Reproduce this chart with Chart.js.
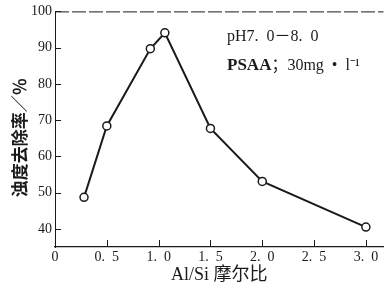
<!DOCTYPE html>
<html>
<head>
<meta charset="utf-8">
<script src="https://cdn.jsdelivr.net/npm/chart.js@4.4.1/dist/chart.umd.min.js"></script>
<style>
  html, body { margin: 0; padding: 0; background: #fff; }
  #wrap { width: 389px; height: 288px; position: relative; }
</style>
</head>
<body>
<div id="wrap"><canvas id="chart"></canvas></div>
<script>
const ratios = [0.28, 0.5, 0.92, 1.06, 1.5, 2.0, 3.0];
const removal = [48.7, 68.4, 89.7, 94.1, 67.7, 53.1, 40.5];
const xTickValues = [0, 0.5, 1.0, 1.5, 2.0, 2.5, 3.0];
const yTickValues = [40, 50, 60, 70, 80, 90, 100];
const noteLines = [["pH7.  0－8.  0", ""], ["PSAA", "；30mg  •  l⁻¹"]];

const ink = "#1a1a1a";
const serif = "'Liberation Serif', 'DejaVu Serif', serif";
const mixed = "'Liberation Serif', 'Noto Sans CJK SC', serif";

// inward tick marks, top frame line and the condition note
const framePlugin = {
  id: "frame",
  afterDraw(chart) {
    const { ctx, chartArea, scales } = chart;
    ctx.save();
    ctx.strokeStyle = ink;
    ctx.lineWidth = 1;

    ctx.setLineDash([14, 3]);
    ctx.beginPath();
    ctx.moveTo(chartArea.left, chartArea.top + 0.5);
    ctx.lineTo(chartArea.right, chartArea.top + 0.5);
    ctx.stroke();
    ctx.setLineDash([]);

    ctx.beginPath();
    yTickValues.forEach((v) => {
      const y = Math.round(scales.y.getPixelForValue(v)) + 0.5;
      ctx.moveTo(chartArea.left, y);
      ctx.lineTo(chartArea.left + 6, y);
    });
    xTickValues.slice(1).forEach((v) => {
      const x = Math.round(scales.x.getPixelForValue(v)) + 0.5;
      ctx.moveTo(x, chartArea.bottom);
      ctx.lineTo(x, chartArea.bottom - 7);
    });
    ctx.stroke();

    ctx.fillStyle = ink;
    ctx.textBaseline = "middle";
    ctx.textAlign = "left";
    const nx = scales.x.getPixelForValue(1.66);
    const rows = [
      { y: 92.9, fonts: ["16px " + mixed, "16px " + mixed] },
      { y: 85, fonts: ["bold 17px " + serif, "16px " + mixed] }
    ];
    rows.forEach((row, i) => {
      const py = scales.y.getPixelForValue(row.y);
      let x = nx;
      noteLines[i].forEach((part, j) => {
        ctx.font = row.fonts[j];
        ctx.fillText(part, x, py);
        x += ctx.measureText(part).width;
      });
    });
    ctx.restore();
  }
};

new Chart(document.getElementById("chart"), {
  type: "scatter",
  data: {
    datasets: [
      {
        data: ratios.map((r, i) => ({ x: r, y: removal[i] })),
        showLine: true,
        borderColor: ink,
        borderWidth: 2,
        pointRadius: 4,
        pointBorderWidth: 1.5,
        pointBackgroundColor: "#fff",
        pointBorderColor: ink
      }
    ]
  },
  options: {
    responsive: true,
    maintainAspectRatio: false,
    animation: false,
    layout: { padding: { top: 9, right: 0, left: 0, bottom: 0 } },
    plugins: {
      legend: { display: false },
      tooltip: { enabled: false }
    },
    scales: {
      x: {
        type: "linear",
        min: 0,
        max: 3.17,
        afterBuildTicks: (scale) => {
          scale.ticks = xTickValues.map((v) => ({ value: v }));
        },
        afterFit: (scale) => {
          scale.height = 41;
        },
        grid: { display: false, drawTicks: false },
        border: { display: true, color: ink, width: 1.2 },
        ticks: {
          padding: 2,
          color: ink,
          font: { family: serif, size: 14 },
          maxRotation: 0,
          callback: (v) => (v === 0 ? "0" : v.toFixed(1).replace(".", ".  "))
        },
        title: {
          display: true,
          text: "Al/Si 摩尔比",
          color: ink,
          font: { family: mixed, size: 18 },
          padding: { top: 0, bottom: 2.2 }
        }
      },
      y: {
        min: 35,
        max: 100,
        afterBuildTicks: (scale) => {
          scale.ticks = yTickValues.map((v) => ({ value: v }));
        },
        afterFit: (scale) => {
          scale.width = 55;
        },
        grid: { display: false, drawTicks: false },
        border: { display: true, color: ink, width: 1, dash: [12, 3] },
        ticks: {
          padding: 3,
          color: ink,
          font: { family: serif, size: 14 }
        },
        title: {
          display: true,
          text: "浊度去除率／％　",
          color: ink,
          font: { family: "'Noto Sans CJK SC', sans-serif", size: 17, weight: "bold" },
          padding: { top: 9.8, bottom: 0 }
        }
      }
    }
  },
  plugins: [framePlugin]
});
</script>
</body>
</html>
